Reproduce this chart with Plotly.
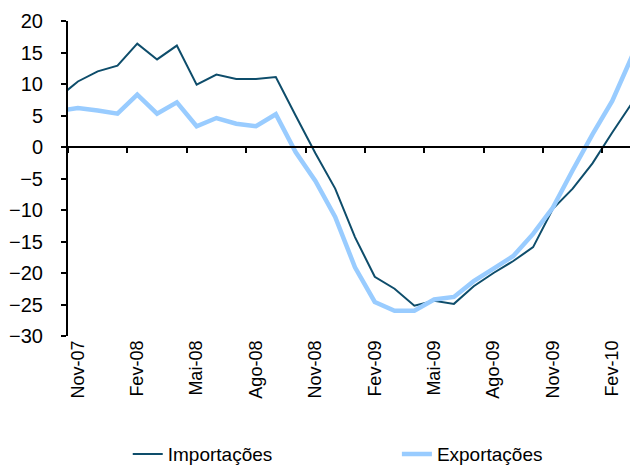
import plotly.graph_objects as go

# monthly series, Out-07 .. Mar-10 (first point sits left of the axis start and is clipped)
months = ["Out-07", "Nov-07", "Dez-07", "Jan-08", "Fev-08", "Mar-08", "Abr-08", "Mai-08",
          "Jun-08", "Jul-08", "Ago-08", "Set-08", "Out-08", "Nov-08", "Dez-08", "Jan-09",
          "Fev-09", "Mar-09", "Abr-09", "Mai-09", "Jun-09", "Jul-09", "Ago-09", "Set-09",
          "Out-09", "Nov-09", "Dez-09", "Jan-10", "Fev-10", "Mar-10"]
importacoes = [7.8, 10.4, 12.0, 12.9, 16.4, 13.9, 16.1, 9.9, 11.5, 10.8, 10.8, 11.1, 5.0,
               -1.0, -6.6, -14.3, -20.6, -22.5, -25.2, -24.4, -24.9, -22.1, -20.0, -18.1,
               -15.9, -9.8, -6.6, -2.6, 2.3, 7.0]
exportacoes = [5.7, 6.2, 5.8, 5.3, 8.3, 5.3, 7.1, 3.3, 4.6, 3.7, 3.3, 5.2, -0.8,
               -5.4, -11.1, -19.1, -24.6, -26.0, -26.0, -24.2, -23.8, -21.3, -19.3, -17.3,
               -13.8, -9.6, -3.7, 2.0, 7.3, 14.4]
label_months = ["Nov-07", "Fev-08", "Mai-08", "Ago-08", "Nov-08",
                "Fev-09", "Mai-09", "Ago-09", "Nov-09", "Fev-10"]

idx = list(range(-1, len(months) - 1))
label_pos = [idx[months.index(m)] for m in label_months]
tick_pos = [p - 0.5 for p in label_pos]
x_range = [-0.5, 28.25]

fig = go.Figure()
fig.add_trace(go.Scatter(x=idx, y=importacoes, name="Importações", mode="lines",
                         line=dict(color="#0E4D6B", width=2), legend="legend"))
fig.add_trace(go.Scatter(x=idx, y=exportacoes, name="Exportações", mode="lines",
                         line=dict(color="#99CCFF", width=4.5), xaxis="x2",
                         legend="legend2"))

# the page body adds an 8px offset, so the figure is 8px smaller than the window
font = "Liberation Sans, Arial, sans-serif"
leg = dict(orientation="h", y=-0.375, xanchor="left", yanchor="middle",
           font=dict(size=19), bgcolor="rgba(0,0,0,0)")
fig.update_layout(
    width=630, height=460,
    margin=dict(l=60, r=1, t=13, b=132, autoexpand=False),
    paper_bgcolor="white", plot_bgcolor="white",
    font=dict(family=font, color="black"),
    xaxis=dict(range=x_range, tickvals=label_pos, ticktext=label_months,
               tickangle=-90, tickfont=dict(size=18), showline=False,
               showgrid=False, zeroline=False, ticks="", automargin=False),
    xaxis2=dict(range=x_range, overlaying="x", anchor="free", position=0.6,
                showline=True, linecolor="black", linewidth=2,
                tickvals=tick_pos, ticks="outside", ticklen=5, tickwidth=2,
                tickcolor="black", showticklabels=False, showgrid=False,
                zeroline=False),
    yaxis=dict(range=[-30, 20], dtick=5, tick0=0, showline=True, linecolor="black",
               linewidth=2, ticks="outside", ticklen=5, tickwidth=2, tickcolor="black",
               tickfont=dict(size=20), showgrid=False, zeroline=False,
               ticklabelstandoff=14, automargin=False),
    legend=dict(leg, x=0.105),
    legend2=dict(leg, x=0.578),
    showlegend=True,
)

fig.write_html("out.html")
